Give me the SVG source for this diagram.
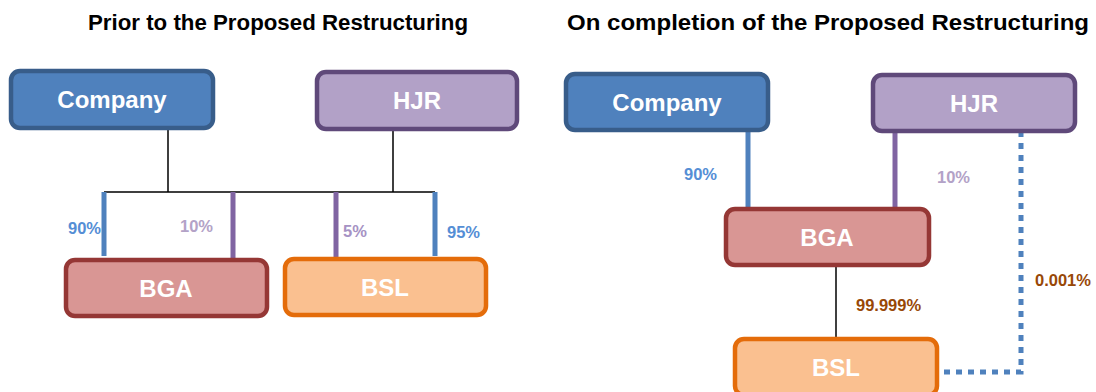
<svg xmlns="http://www.w3.org/2000/svg" width="1096" height="392" viewBox="0 0 1096 392">
<style>
.title{font-family:"Liberation Sans",Arial,sans-serif;font-weight:bold;font-size:22px;fill:#000}
.lbl{font-family:"Liberation Sans",Arial,sans-serif;font-weight:bold;font-size:24px;fill:#fff;text-anchor:middle}
.pct{font-family:"Liberation Sans",Arial,sans-serif;font-weight:bold;font-size:16.5px}
.box{stroke-width:4.5}
.co{fill:#4F81BD;stroke:#385D8A}
.hj{fill:#B2A1C7;stroke:#5F497A}
.bg{fill:#D99694;stroke:#953735}
.bs{fill:#FAC090;stroke:#E46C0A}
.thin{stroke:#000;stroke-width:1.5;fill:none}
.bbar{stroke:#4F81BD;stroke-width:5;fill:none}
.pbar{stroke:#8064A2;stroke-width:5;fill:none}
</style>
<rect width="1096" height="392" fill="#fff"/>
<text class="title" x="88" y="30" textLength="380" lengthAdjust="spacingAndGlyphs">Prior to the Proposed Restructuring</text>
<text class="title" x="567" y="30" textLength="522" lengthAdjust="spacingAndGlyphs">On completion of the Proposed Restructuring</text>

<g id="connectors">
  <path class="thin" d="M168 129V192M393 130V192M104 192H435"/>
  <path class="bbar" d="M104 192V256M435 192V256"/>
  <path class="pbar" d="M233 192V260M336 192V258"/>
  <text class="pct" x="101" y="234" text-anchor="end" fill="#558ED5">90%</text>
  <text class="pct" x="213" y="232" text-anchor="end" fill="#B3A2C7">10%</text>
  <text class="pct" x="343" y="237" fill="#A692C4">5%</text>
  <text class="pct" x="447" y="238" fill="#558ED5">95%</text>

  <path class="bbar" d="M748 131V208"/>
  <path class="pbar" d="M895 132V208"/>
  <path class="thin" d="M836 266V339"/>
  <path d="M944 372H1021V128H1033" fill="none" stroke="#4F81BD" stroke-width="5" stroke-dasharray="6 6"/>
  <text class="pct" x="717" y="180" text-anchor="end" fill="#558ED5">90%</text>
  <text class="pct" x="937" y="183" fill="#B3A2C7">10%</text>
  <text class="pct" x="856" y="311" fill="#984807">99.999%</text>
  <text class="pct" x="1035" y="286" fill="#984807">0.001%</text>
</g>

<g id="company-left"><rect class="box co" x="11" y="71" width="202" height="57" rx="9"/><text class="lbl" x="112" y="108">Company</text></g>
<g id="hjr-left"><rect class="box hj" x="317" y="72" width="200" height="57" rx="9"/><text class="lbl" x="417" y="109">HJR</text></g>
<g id="bga-left"><rect class="box bg" x="66" y="260" width="201" height="56" rx="9"/><text class="lbl" x="166" y="297">BGA</text></g>
<g id="bsl-left"><rect class="box bs" x="285" y="259" width="201" height="56" rx="9"/><text class="lbl" x="385" y="296">BSL</text></g>

<g id="company-right"><rect class="box co" x="566" y="74" width="202" height="56" rx="9"/><text class="lbl" x="667" y="111">Company</text></g>
<g id="hjr-right"><rect class="box hj" x="873" y="75" width="202" height="56" rx="9"/><text class="lbl" x="974" y="112">HJR</text></g>
<g id="bga-right"><rect class="box bg" x="726" y="209" width="203" height="56" rx="9"/><text class="lbl" x="827" y="246">BGA</text></g>
<g id="bsl-right"><rect class="box bs" x="735" y="339" width="202" height="56" rx="9"/><text class="lbl" x="836" y="376">BSL</text></g>
</svg>
